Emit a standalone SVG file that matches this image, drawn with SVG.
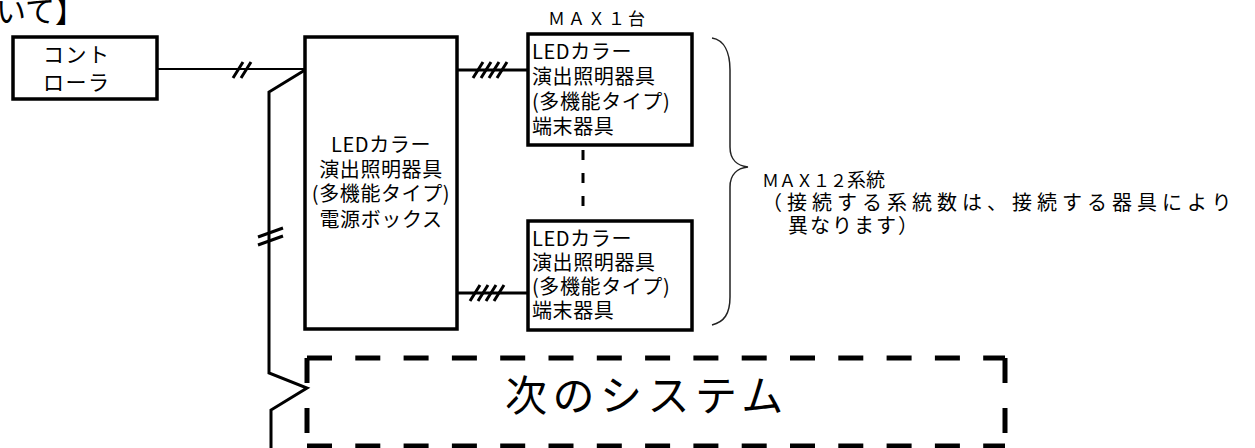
<svg xmlns="http://www.w3.org/2000/svg" width="1255" height="448" viewBox="0 0 1255 448">
<style>
.box{fill:#fff;stroke:#000;stroke-width:3.5}
.t{font-family:"Noto Sans CJK JP","Noto Sans CJK SC",sans-serif;fill:#000}
.bt{font-size:20px;letter-spacing:0.6px}
.ln{fill:none;stroke:#000;stroke-width:3}
.thin{fill:none;stroke:#000;stroke-width:2}
.tk{fill:none;stroke:#000;stroke-width:3}
.dash{fill:none;stroke:#000;stroke-width:5}
</style>
<rect width="1255" height="448" fill="#fff"/>
<text class="t" x="-4" y="22" font-size="30">いて】</text>

<g id="connectors">
  <line class="thin" x1="158" y1="69" x2="305" y2="69"/>
  <path class="tk" d="M233,78 L243,62 M241,78 L251,62"/>
  <path class="ln" d="M305,70 L269,92 L269,373 L307,388 L271,410 L271,448"/>
  <path class="tk" d="M258,237 L283,228 M258,245 L283,236"/>
  <line class="ln" x1="457" y1="70" x2="528" y2="70"/>
  <path class="tk" d="M473,78 L483,62 M481,78 L491,62 M489,78 L499,62 M497,78 L507,62"/>
  <line class="ln" x1="457" y1="293" x2="528" y2="293"/>
  <path class="tk" d="M470,301 L480,285 M478,301 L488,285 M486,301 L496,285 M494,301 L504,285"/>
  <line x1="583" y1="150" x2="583" y2="210" stroke="#000" stroke-width="3" stroke-dasharray="10 13"/>
  <path d="M712,38 C724,40 730,52 730,70 L730,147 C730,160 738,166 748,167 C738,168 730,174 730,187 L730,297 C730,314 724,322 712,325" fill="none" stroke="#222" stroke-width="1.5"/>
</g>

<g id="controller">
  <rect class="box" x="13" y="37" width="144" height="62"/>
  <text class="t" x="43" y="62" font-size="21" letter-spacing="1.5">コント</text>
  <text class="t" x="43" y="90" font-size="21" letter-spacing="1.5">ローラ</text>
</g>

<g id="power-box">
  <rect class="box" x="305" y="37" width="152" height="292"/>
  <g text-anchor="middle">
    <text class="t bt" x="381" y="152">LEDカラー</text>
    <text class="t bt" x="381" y="177">演出照明器具</text>
    <text class="t bt" x="381" y="201">(多機能タイプ)</text>
    <text class="t bt" x="381" y="227">電源ボックス</text>
  </g>
</g>

<g id="terminal-1">
  <text class="t" x="548" y="25" font-size="17" letter-spacing="3">ＭＡＸ１台</text>
  <rect class="box" x="528" y="34" width="164" height="111"/>
  <text class="t bt" x="532" y="59">LEDカラー</text>
  <text class="t bt" x="532" y="84">演出照明器具</text>
  <text class="t bt" x="532" y="109">(多機能タイプ)</text>
  <text class="t bt" x="532" y="134">端末器具</text>
</g>

<g id="terminal-2">
  <rect class="box" x="528" y="221" width="164" height="109"/>
  <text class="t bt" x="532" y="246">LEDカラー</text>
  <text class="t bt" x="532" y="270">演出照明器具</text>
  <text class="t bt" x="532" y="294">(多機能タイプ)</text>
  <text class="t bt" x="532" y="318">端末器具</text>
</g>

<g id="note">
  <text class="t" x="762" y="187" font-size="17">ＭＡＸ１２<tspan font-size="19">系統</tspan></text>
  <text class="t" x="762" y="210" font-size="20" letter-spacing="5">（接続する系統数は、接続する器具により</text>
  <text class="t" x="788" y="233" font-size="20" letter-spacing="2">異なります）</text>
</g>

<g id="next-system">
  <line class="dash" x1="307" y1="358" x2="1005" y2="358" stroke-dasharray="25 23.3"/>
  <line class="dash" x1="307" y1="446" x2="1005" y2="446" stroke-dasharray="25 23.3"/>
  <line class="dash" x1="307" y1="358" x2="307" y2="446" stroke-dasharray="25 25"/>
  <line class="dash" x1="1005" y1="358" x2="1005" y2="446" stroke-dasharray="25 25"/>
  <text class="t" x="505" y="411" font-size="42" letter-spacing="5.5">次のシステム</text>
</g>
</svg>
